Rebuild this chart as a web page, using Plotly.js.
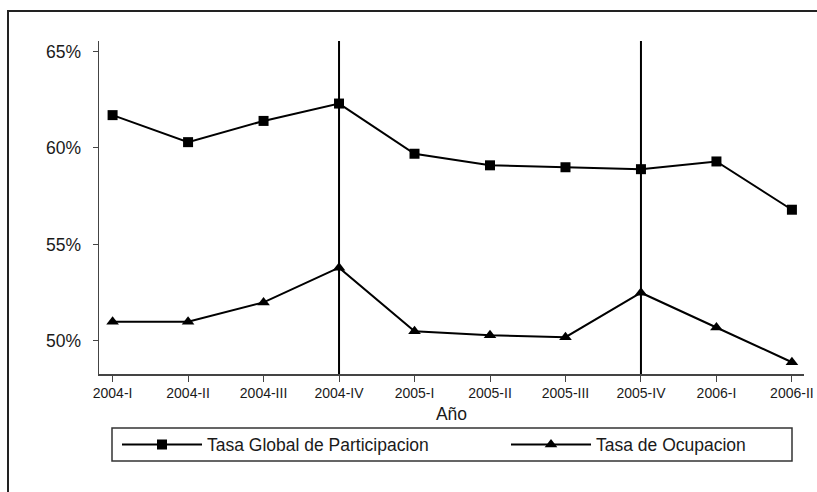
<!DOCTYPE html>
<html>
<head>
<meta charset="utf-8">
<script src="https://cdn.plot.ly/plotly-3.0.1.min.js"></script>
<style>html,body{margin:0;padding:0;background:#fff;}#chart{width:817px;height:492px;}</style>
</head>
<body>
<div id="chart"></div>
<script>
var periods = ['2004-I','2004-II','2004-III','2004-IV','2005-I','2005-II','2005-III','2005-IV','2006-I','2006-II'];
var tasaGlobal = [61.7, 60.3, 61.4, 62.3, 59.7, 59.1, 59.0, 58.9, 59.3, 56.8];
var tasaOcupacion = [51.0, 51.0, 52.0, 53.8, 50.5, 50.3, 50.2, 52.5, 50.7, 48.9];
var seriesNames = ['Tasa Global de Participacion', 'Tasa de Ocupacion'];
var markedPeriods = ['2004-IV', '2005-IV'];
var yTicks = [50, 55, 60, 65];

var font = 'Liberation Sans, Arial, sans-serif';
var ink = '#1a1a1a';

// plot area in pixels
var PL = 99, PR = 804, PT = 41, PB = 374;
var PW = PR - PL, PH = PB - PT;
function px(x){ return (x - PL) / PW; }
function py(y){ return (PB - y) / PH; }

var traces = [
  {x: periods, y: tasaGlobal, name: seriesNames[0], type: 'scatter', mode: 'lines+markers',
   line: {color: '#000', width: 2}, marker: {symbol: 'square', size: 10, color: '#000'},
   legend: 'legend'},
  {x: periods, y: tasaOcupacion, name: seriesNames[1], type: 'scatter', mode: 'lines+markers',
   line: {color: '#000', width: 2}, marker: {symbol: 'triangle-up', size: 11, color: '#000'},
   legend: 'legend2'}
];

var shapes = markedPeriods.map(function(p){
  return {type: 'line', xref: 'x', yref: 'paper', x0: p, x1: p, y0: 0, y1: 1,
          line: {color: '#000', width: 2}, layer: 'below'};
});
// outer frame
shapes.push({type: 'rect', xref: 'paper', yref: 'paper',
  x0: px(8), x1: 1.2, y0: -0.5, y1: py(11),
  line: {color: '#222', width: 2}, fillcolor: 'rgba(0,0,0,0)'});
// legend box
shapes.push({type: 'rect', xref: 'paper', yref: 'paper',
  x0: px(112), x1: px(792), y0: py(461), y1: py(428),
  line: {color: '#333', width: 1.5}, fillcolor: 'rgba(0,0,0,0)'});

function legendAt(leftPx){
  return {orientation: 'h', x: px(leftPx), y: py(444.5), xanchor: 'left', yanchor: 'middle',
          borderwidth: 0, bgcolor: 'rgba(0,0,0,0)',
          font: {family: font, size: 17.5, color: ink}, itemwidth: 80};
}

var layout = {
  width: 817, height: 492,
  margin: {l: PL, r: 817 - PR, t: PT, b: 492 - PB, autoexpand: false},
  paper_bgcolor: '#fff', plot_bgcolor: '#fff',
  font: {family: font, color: ink},
  showlegend: true,
  legend: legendAt(117),
  legend2: legendAt(506),
  xaxis: {
    type: 'category', range: [-0.18, 9.16],
    showgrid: false, zeroline: false,
    showline: true, linecolor: '#444', linewidth: 1.5,
    ticks: 'outside', ticklen: 6, tickwidth: 1, tickcolor: '#444',
    tickfont: {family: font, size: 14, color: ink},
    title: {text: 'Año', font: {family: font, size: 17.5, color: ink}, standoff: 7}
  },
  yaxis: {
    range: [48.29, 65.54],
    tickvals: yTicks, ticktext: yTicks.map(function(v){return v + '%';}),
    showgrid: false, zeroline: false,
    showline: true, linecolor: '#444', linewidth: 1.5,
    ticks: 'outside', ticklen: 5, tickwidth: 1, tickcolor: '#444',
    ticklabelstandoff: 8,
    tickfont: {family: font, size: 17.5, color: ink}
  },
  shapes: shapes
};

Plotly.newPlot('chart', traces, layout, {displayModeBar: false, staticPlot: true});
</script>
</body>
</html>
